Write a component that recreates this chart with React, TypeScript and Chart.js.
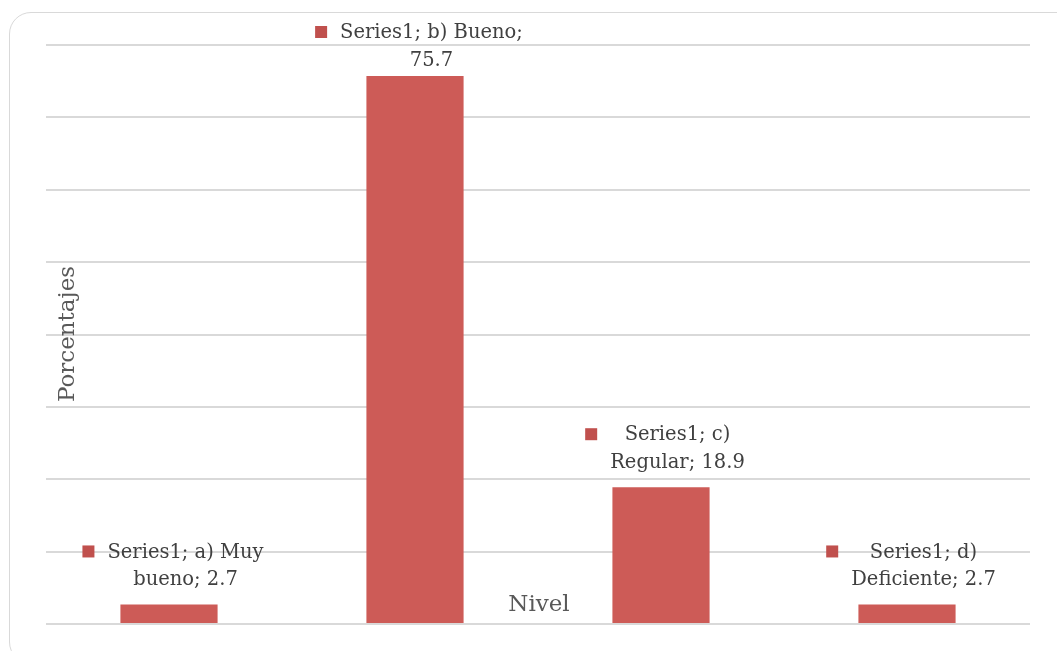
import React, { useEffect, useRef } from "react";
import { Chart, registerables } from "chart.js";

Chart.register(...registerables);

const seriesName = "Series1";
const categories = ["a) Muy bueno", "b) Bueno", "c) Regular", "d) Deficiente"];
const values = [2.7, 75.7, 18.9, 2.7];
const yMin = 0;
const yMax = 80;
const yStep = 10;
const xTitle = "Nivel";
const yTitle = "Porcentajes";

const BAR_COLOR = "#CD5B57";
const KEY_COLOR = "#C0504D";
const LABEL_FONT = "19.5px 'DejaVu Serif'";
const TITLE_FONT = "23px 'DejaVu Serif'";

function wrap(ctx: CanvasRenderingContext2D, text: string, maxW: number): string[] {
  const words = text.split(" ");
  const lines: string[] = [];
  let cur = "";
  for (const w of words) {
    const test = cur ? cur + " " + w : w;
    if (ctx.measureText(test).width > maxW && cur) {
      lines.push(cur);
      cur = w;
    } else cur = test;
  }
  if (cur) lines.push(cur);
  return lines;
}

const labelPlugin = {
  id: "customLabels",
  afterDraw(chart: any) {
    const ctx: CanvasRenderingContext2D = chart.ctx;
    const meta = chart.getDatasetMeta(0);
    ctx.save();
    ctx.font = LABEL_FONT;
    ctx.textBaseline = "middle";
    ctx.textAlign = "center";
    const maxW = ctx.measureText(`${seriesName}; ${categories[1]};`).width + 4;
    meta.data.forEach((bar: any, i: number) => {
      const text = `${seriesName}; ${categories[i]}; ${values[i]}`;
      const lines = wrap(ctx, text, maxW);
      const textW = Math.max(...lines.map((l) => ctx.measureText(l).width));
      const keySize = 12;
      const gap = 13;
      const blockW = keySize + gap + textW;
      const left = bar.x - blockW / 2 + 4;
      const lineH = 27.5;
      const lastY = bar.y - 24.5;
      let firstY = lastY - lineH * (lines.length - 1);
      if (firstY < 33) firstY = 33;
      ctx.fillStyle = KEY_COLOR;
      ctx.fillRect(left, firstY - 7, keySize, keySize);
      ctx.fillStyle = "#404040";
      lines.forEach((l, k) => {
        ctx.fillText(l, left + keySize + gap + textW / 2, firstY + k * lineH);
      });
    });
    ctx.font = TITLE_FONT;
    ctx.fillStyle = "#595959";
    ctx.fillText(xTitle, 539, 605);
    ctx.translate(68, 334);
    ctx.rotate(-Math.PI / 2);
    ctx.fillText(yTitle, 0, 0);
    ctx.restore();
  },
};

export default function App() {
  const ref = useRef<HTMLCanvasElement>(null);
  useEffect(() => {
    if (!ref.current) return;
    const chart = new Chart(ref.current, {
      type: "bar",
      data: {
        labels: categories,
        datasets: [
          {
            label: seriesName,
            data: values,
            backgroundColor: BAR_COLOR,
            categoryPercentage: 1,
            barPercentage: 0.395,
          },
        ],
      },
      options: {
        animation: false,
        responsive: false,
        layout: { padding: { left: 46, right: 27, top: 45, bottom: 19 } },
        plugins: { legend: { display: false }, tooltip: { enabled: false } },
        scales: {
          x: {
            grid: { display: false },
            border: { display: false },
            ticks: { display: false },
          },
          y: {
            min: yMin,
            max: yMax,
            ticks: { display: false, stepSize: yStep },
            grid: { color: "#d9d9d9", lineWidth: 2, drawTicks: false },
            border: { display: false },
          },
        },
      },
      plugins: [labelPlugin],
    });
    return () => chart.destroy();
  }, []);
  return (
    <div
      style={{
        position: "fixed",
        left: 0,
        top: 0,
        width: 1057,
        height: 651,
        overflow: "hidden",
        background: "#fff",
      }}
    >
      <div
        style={{
          position: "absolute",
          left: 9,
          top: 12,
          width: 1080,
          height: 650,
          border: "1.5px solid #d9d9d9",
          borderRadius: 22,
        }}
      />
      <canvas
        ref={ref}
        width={1057}
        height={651}
        style={{ position: "absolute", left: 0, top: 0 }}
      />
    </div>
  );
}
